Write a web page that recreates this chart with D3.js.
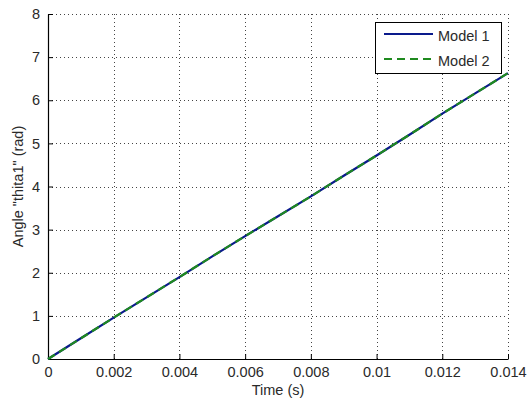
<!DOCTYPE html>
<html>
<head>
<meta charset="utf-8">
<script src="https://cdn.jsdelivr.net/npm/d3@7"></script>
<style>
  html, body { margin: 0; padding: 0; background: #fff; }
  svg { display: block; }
  text { font-family: "Liberation Sans", Arial, sans-serif; fill: #2a2a2a; }
</style>
</head>
<body>
<svg id="chart" width="529" height="406"></svg>
<script>
// Time samples (s) and joint angle thita1 (rad) for both models
const time = [0, 0.001, 0.002, 0.003, 0.004, 0.005, 0.006, 0.007, 0.008, 0.009, 0.010, 0.011, 0.012, 0.013, 0.014];
const model1 = [0, 0.48, 0.96, 1.43, 1.90, 2.38, 2.85, 3.31, 3.77, 4.25, 4.72, 5.20, 5.69, 6.16, 6.63];
const model2 = [0, 0.48, 0.96, 1.43, 1.90, 2.38, 2.85, 3.31, 3.77, 4.25, 4.72, 5.20, 5.69, 6.16, 6.63];
const seriesNames = ["Model 1", "Model 2"];
const xTicks = [0, 0.002, 0.004, 0.006, 0.008, 0.01, 0.012, 0.014];
const xTickLabels = ["0", "0.002", "0.004", "0.006", "0.008", "0.01", "0.012", "0.014"];
const yTicks = [0, 1, 2, 3, 4, 5, 6, 7, 8];

const svg = d3.select("#chart");
const margin = { left: 48, right: 21, top: 14, bottom: 47 };
const W = 529, H = 406;
const x = d3.scaleLinear().domain([0, 0.014]).range([margin.left, W - margin.right]);
const y = d3.scaleLinear().domain([0, 8]).range([H - margin.bottom, margin.top]);
const fontSize = "14.5px";

// dotted grid
const grid = svg.append("g").attr("stroke", "#444").attr("stroke-width", 1)
  .attr("stroke-dasharray", "1,3").attr("shape-rendering", "crispEdges");
grid.selectAll("line.vx").data(xTicks.slice(1)).join("line")
  .attr("x1", d => Math.round(x(d)) + 0.5).attr("x2", d => Math.round(x(d)) + 0.5)
  .attr("y1", y(0)).attr("y2", y(8));
grid.selectAll("line.hy").data(yTicks.slice(1)).join("line")
  .attr("y1", d => Math.round(y(d)) + 0.5).attr("y2", d => Math.round(y(d)) + 0.5)
  .attr("x1", x(0)).attr("x2", x(0.014));

// axes with inward ticks
const xAxis = d3.axisBottom(x).tickValues(xTicks)
  .tickFormat((d, i) => xTickLabels[i]).tickSizeInner(-5).tickSizeOuter(0).tickPadding(8);
const yAxis = d3.axisLeft(y).tickValues(yTicks)
  .tickSizeInner(-5).tickSizeOuter(0).tickPadding(8);

const gx = svg.append("g").attr("transform", `translate(0,${y(0)})`).call(xAxis);
const gy = svg.append("g").attr("transform", `translate(${x(0)},0)`).call(yAxis);
[gx, gy].forEach(g => {
  g.select(".domain").attr("stroke", "#000").attr("stroke-width", 1.2);
  g.selectAll(".tick line").attr("stroke", "#000");
  g.selectAll(".tick text").style("font-size", fontSize)
    .style("font-family", '"Liberation Sans", Arial, sans-serif').attr("fill", "#2a2a2a");
});
gx.selectAll(".tick text").attr("dy", "0.71em");

// axis titles
svg.append("text").attr("x", (x(0) + x(0.014)) / 2).attr("y", 395)
  .attr("text-anchor", "middle").style("font-size", fontSize).text("Time (s)");
svg.append("text")
  .attr("transform", `translate(23,${(y(0) + y(8)) / 2}) rotate(-90)`)
  .attr("text-anchor", "middle").style("font-size", fontSize)
  .text('Angle "thita1" (rad)');

// data lines
const line = d3.line().x((d, i) => x(time[i])).y(d => y(d));
svg.append("path").datum(model1).attr("d", line)
  .attr("fill", "none").attr("stroke", "#0a1a8c").attr("stroke-width", 2.2);
svg.append("path").datum(model2).attr("d", line)
  .attr("fill", "none").attr("stroke", "#1f8a1f").attr("stroke-width", 2.2)
  .attr("stroke-dasharray", "8,5");

// legend
const leg = svg.append("g");
leg.append("rect").attr("x", 375.5).attr("y", 22.5).attr("width", 126).attr("height", 51)
  .attr("fill", "#fff").attr("stroke", "#000").attr("stroke-width", 1);
const legStyles = [
  { color: "#0a1a8c", dash: null, ly: 34, ty: 41 },
  { color: "#1f8a1f", dash: "8,5", ly: 59, ty: 66 }
];
seriesNames.forEach((name, i) => {
  const s = legStyles[i];
  leg.append("line").attr("x1", 384).attr("x2", 433).attr("y1", s.ly).attr("y2", s.ly)
    .attr("stroke", s.color).attr("stroke-width", 2.2).attr("stroke-dasharray", s.dash);
  leg.append("text").attr("x", 438).attr("y", s.ty).style("font-size", fontSize).text(name);
});
</script>
</body>
</html>
